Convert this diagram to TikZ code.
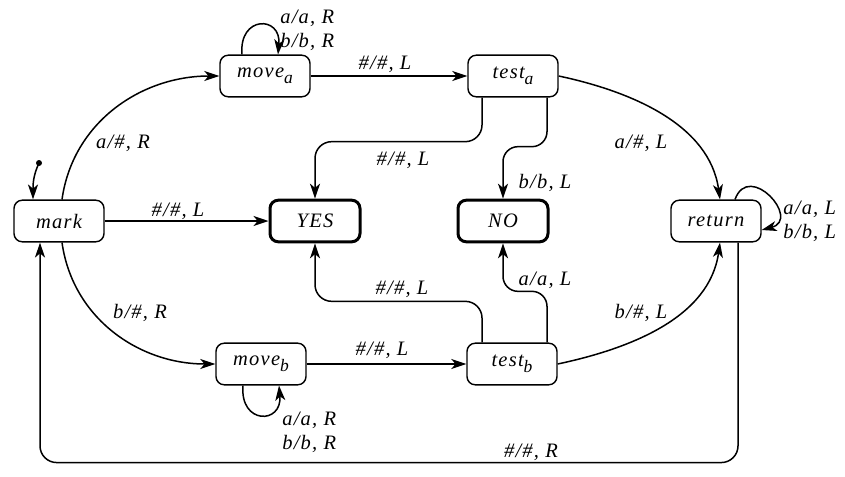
\documentclass[tikz,border=0pt]{standalone}
\usepackage{fontspec}
\setmainfont{Liberation Serif}
\newfontfamily\lblfont{Liberation Serif Italic}[LetterSpace=6]
\newcommand{\lblsize}{\lblfont\fontsize{12.3}{14.4}\selectfont}
\newcommand{\lowsub}[1]{\raisebox{-0.6ex}{\fontsize{10.5}{12}\selectfont #1}}
\usetikzlibrary{arrows.meta,calc}
\tikzset{
  state/.style={draw, rounded corners=5pt, minimum width=54pt, minimum height=25pt, inner sep=2pt, line width=0.85pt, font=\lblsize},
  final/.style={state, line width=1.8pt},
  trans/.style={-{Stealth[length=9pt,width=6pt,inset=2.5pt]}, line width=0.9pt},
  tlabel/.style={font=\lblsize, inner sep=0pt, align=left},
}
\begin{document}
\begin{tikzpicture}[x=0.6pt,y=0.6pt]
  \useasboundingbox (0,0) rectangle (845,476);
  % states
  \node[state] (mark) at (59,255) {mark};
  \node[state] (movea) at (265,400) {move\lowsub{a}};
  \node[state] (testa) at (513,400) {test\lowsub{a}};
  \node[final] (yes) at (315,255) {YES};
  \node[final] (no) at (503,255) {NO};
  \node[state] (ret) at (716,255) {return};
  \node[state] (moveb) at (261,112) {move\lowsub{b}};
  \node[state] (testb) at (512,112) {test\lowsub{b}};

  % start
  \coordinate (init) at (39,313);
  \fill (init) circle (1.8pt);
  \draw[trans] (init) to[out=245,in=90] ($(mark.north)+(-26,0)$);

  % transitions
  \draw[trans] ($(mark.north)+(3,0)$) to[out=82,in=180] (movea.west);
  \draw[trans] (mark) -- (yes);
  \draw[trans] ($(mark.south)+(3,0)$) to[out=-82,in=180] (moveb.west);
  \draw[trans] (movea) -- (testa);
  \draw[trans] (moveb) -- (testb);
  \draw[trans] ($(movea.north)+(-23,0)$) to[out=95,in=85,looseness=2.8] ($(movea.north)+(13,0)$);
  \draw[trans] ($(moveb.south)+(-18,0)$) to[out=-95,in=-85,looseness=2.8] ($(moveb.south)+(18,0)$);
  \draw[trans, rounded corners=10pt] ($(testa.south)+(-31,0)$) |- ($(yes.north)+(0,57)$) -- (yes.north);
  \draw[trans, rounded corners=9pt] ($(testa.south)+(34,0)$) |- ($(no.north)+(0,52)$) -- (no.north);
  \draw[trans, rounded corners=10pt] ($(testb.north)+(-30,0)$) |- ($(yes.south)+(0,-58)$) -- (yes.south);
  \draw[trans, rounded corners=9pt] ($(testb.north)+(35,0)$) |- ($(no.south)+(0,-48)$) -- (no.south);
  \draw[trans] (testa.east) to[out=-12,in=98,looseness=0.95] ($(ret.north)+(4,0)$);
  \draw[trans] (testb.east) to[out=12,in=262,looseness=0.95] ($(ret.south)+(4,0)$);
  \draw[trans] ($(ret.north)+(19,0)$) to[out=70,in=15,looseness=2.6] ($(ret.east)+(0,-9)$);
  \draw[trans, rounded corners=10pt] ($(ret.south)+(22,0)$) |- ($(mark.south)+(-19,-220)$) -- ($(mark.south)+(-19,0)$);

  % labels
  \node[tlabel] at (123,333) {a/\#, R};
  \node[tlabel] at (178,265) {\#/\#, L};
  \node[tlabel] at (140,163) {b/\#, R};
  \node[tlabel, anchor=west] at (280,446) {a/a, R\\b/b, R};
  \node[tlabel] at (385,412) {\#/\#, L};
  \node[tlabel] at (403,316) {\#/\#, L};
  \node[tlabel] at (545,293) {b/b, L};
  \node[tlabel] at (641,333) {a/\#, L};
  \node[tlabel, anchor=west] at (783,255) {a/a, L\\b/b, L};
  \node[tlabel] at (382,126) {\#/\#, L};
  \node[tlabel, anchor=west] at (282,44) {a/a, R\\b/b, R};
  \node[tlabel] at (402,187) {\#/\#, L};
  \node[tlabel] at (545,196) {a/a, L};
  \node[tlabel] at (641,163) {b/\#, L};
  \node[tlabel] at (531,24) {\#/\#, R};
\end{tikzpicture}
\end{document}
